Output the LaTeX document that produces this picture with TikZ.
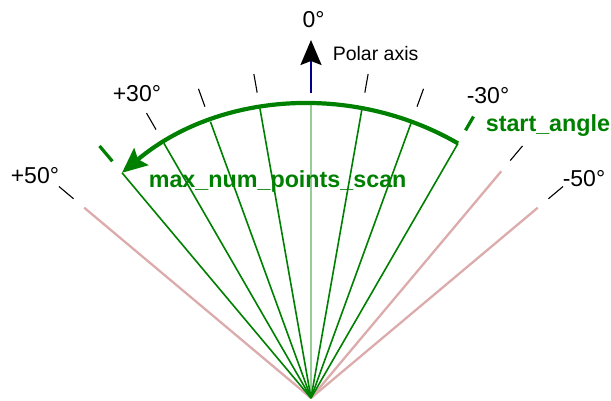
\documentclass[tikz,border=0pt]{standalone}
\usepackage{fontspec}
\setmainfont{Liberation Sans}
\usetikzlibrary{arrows.meta}
\definecolor{scan}{RGB}{0,128,0}
\definecolor{scanhell}{RGB}{150,205,150}
\definecolor{aussen}{RGB}{220,172,172}
\definecolor{achse}{RGB}{0,0,140}
\tikzset{>={Stealth[length=25pt,width=22pt,inset=4pt]}}
\tikzset{grad/.style={black, inner sep=0pt, anchor=base west, font=\fontsize{23}{27}\selectfont}}
\tikzset{gruentext/.style={scan, inner sep=0pt, anchor=base west, font=\fontsize{23.3}{27}\selectfont\bfseries}}

\begin{document}
\begin{tikzpicture}[x=1pt, y=1pt, line width=1.6pt]
	\useasboundingbox (-311,-3) rectangle (300,398);

	\coordinate (O) at (0,0);

	% rays outside the scan
	\draw[aussen, line width=2.3pt] (O) -- (140:296);
	\draw[aussen, line width=2.3pt] (O) -- (50:296);
	\draw[aussen, line width=2.3pt] (O) -- (40:296);

	% scan rays
	\draw[scanhell, line width=2.5pt] (O) -- (90:294);
	\draw[scan] (O) -- (60:294);
	\draw[scan] (O) -- (70:294);
	\draw[scan] (O) -- (80:294);
	\draw[scan] (O) -- (100:294);
	\draw[scan] (O) -- (110:294);
	\draw[scan] (O) -- (120:294);
	\draw[scan] (O) -- (130:294);

	% ticks
	\draw[black, line width=1.1pt] (O)++(140:310) -- ++(140:19);
	\draw[black, line width=1.1pt] (O)++(120:310) -- ++(120:19);
	\draw[black, line width=1.1pt] (O)++(110:310) -- ++(110:19);
	\draw[black, line width=1.1pt] (O)++(100:310) -- ++(100:19);
	\draw[black, line width=1.1pt] (O)++(80:310) -- ++(80:19);
	\draw[black, line width=1.1pt] (O)++(70:310) -- ++(70:19);
	\draw[black, line width=1.1pt] (O)++(50:310) -- ++(50:19);
	\draw[black, line width=1.1pt] (O)++(40:310) -- ++(40:19);
	\draw[scan, line width=3.2pt] (O)++(130:309) -- ++(130:20);
	\draw[scan, line width=3.2pt] (O)++(60:309) -- ++(60:16);

	% scan arc
	\draw[scan, line width=4.2pt, ->] (O)++(60:294) arc(60:130:294);

	% polar axis
	\draw[achse, line width=2.2pt, -{Stealth[length=25pt,width=21pt,inset=4pt,black]}] (O)++(0,305) -- ++(0,53);
	\node[grad, font=\fontsize{19.5}{23}\selectfont] (polar) at (21,337) {Polar axis};

	\node[grad, anchor=base] (null) at (2.5,370) {0°};
	\node[grad] (plus30) at (-199,296) {+30°};
	\node[grad] (plus50) at (-301,214) {+50°};
	\node[grad] (minus30) at (155,294) {-30°};
	\node[grad] (minus50) at (251,211) {-50°};

	\node[gruentext] (start) at (174,266) {start\_angle};
	\node[gruentext] (maxnum) at (-163,210) {max\_num\_points\_scan};

\end{tikzpicture}
\end{document}
